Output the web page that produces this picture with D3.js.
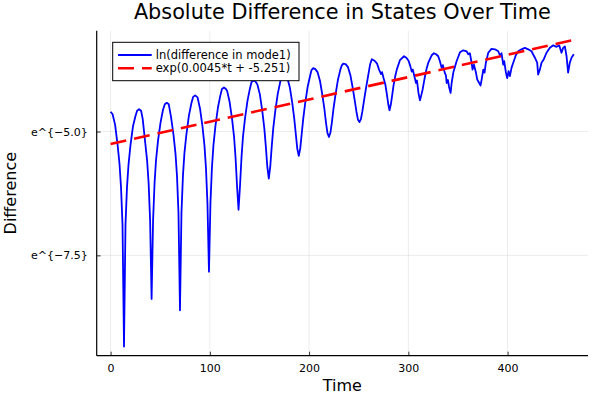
<!DOCTYPE html>
<html>
<head>
<meta charset="utf-8">
<script src="https://cdn.jsdelivr.net/npm/d3@7"></script>
<style>
  body { margin: 0; background: #fff; }
  svg { display: block; font-family: "DejaVu Sans", sans-serif; }
</style>
</head>
<body>
<div id="chart"></div>
<script>
// ln(difference in mode1)
const timeVals = [
  0, 2, 4.5, 7, 9, 10.5, 12, 13.5, 15, 16.5, 18, 20, 22.5, 25, 26.7, 28.7,
  30.7, 32.3, 34.8, 36.8, 38.3, 39.8, 41.3, 42.8, 44.3, 45.8, 47.8, 50.3, 52.8, 54.6, 56.6,
  58.6, 60.9, 63.4, 65.4, 66.9, 68.4, 69.9, 71.4, 72.9, 74.4, 76.4, 78.9, 81.4, 83.2, 85.2,
  87.6, 90.1, 92.6, 94.6, 96.1, 97.6, 99.1, 100.6, 102.1, 103.6, 105.6, 108.1, 110.6, 112.2, 114.2,
  116.2, 117.4, 119.9, 122.4, 124.4, 125.9, 127.4, 128.9, 130.4, 131.9, 133.4, 135.4, 137.9, 140.4, 142, 144,
  146, 147.9, 150.4, 152.9, 154.9, 156.4, 157.9, 159.4, 160.9, 162.4, 163.9, 165.9, 168.4, 170.9, 172.2, 174,
  176, 178.1, 180.6, 183.1, 185.1, 186.6, 188.1, 189.6, 191.1, 192.6, 194.1, 196.1, 198.6, 201.1, 202.4, 204.2,
  206.3, 208.5, 211, 213.5, 215.5, 217, 218.5, 220, 221.5, 223, 224.5, 226.5, 229, 231.5, 232.8, 234.4,
  236.8, 239.2, 241.7, 244.2, 246.2, 247.7, 249.2, 250.7, 252.2, 253.7, 255.2, 257.2, 259.7, 261.5, 263.2,
  266, 268.5, 270.5, 272.5, 273.5, 275, 276.8, 278.3, 279.8, 281, 282.3, 283.5, 285, 286.8, 288.5, 291.5, 295.6,
  298, 300.2, 302, 303.4, 304.5, 306, 307.7, 308.7, 310.2, 311.7, 313, 314.4, 316.8, 318.5, 320.1, 323.5, 325.8,
  328, 330.1, 331.8, 333.5, 334.8, 336.5, 337.9, 338.6, 339.9, 341, 342.6, 343.6, 345.3, 348.6, 352, 355.3,
  358.7, 360.4, 362, 363.7, 364.7, 366.1, 368.1, 369.4, 371.4, 372.8, 374.1, 375.5, 376.8, 378.1, 380.5, 383.8,
  387.2, 390.6, 392.2, 393.9, 395.6, 396.6, 398.3, 399.6, 401, 402.3, 404, 405.7, 408.3, 410.7, 414, 417.4,
  420.8, 424.1, 427.5, 429.8, 430.8, 432.5, 434.2, 436.5, 439.2, 442.6, 446, 449.3, 452, 454.3, 456, 457.7,
  459.4, 461, 462.7, 464.4, 466.7
];
const diffVals = [
  -4.60, -4.65, -4.86, -5.26, -5.66, -6.13, -6.88, -9.34, -6.88, -6.13, -5.68, -5.28, -4.90, -4.69, -4.58, -4.55,
  -4.58, -4.74, -5.21, -5.59, -6.04, -6.79, -8.38, -6.79, -6.04, -5.57, -5.18, -4.82, -4.56, -4.45, -4.42,
  -4.45, -4.71, -5.07, -5.45, -5.90, -6.65, -8.61, -6.64, -5.89, -5.43, -5.05, -4.68, -4.43, -4.30, -4.27,
  -4.31, -4.54, -4.90, -5.29, -5.74, -6.46, -7.83, -6.45, -5.73, -5.28, -4.89, -4.52, -4.27, -4.14, -4.11,
  -4.14, -4.18, -4.40, -4.75, -5.11, -5.53, -6.10, -6.58, -6.09, -5.52, -5.10, -4.74, -4.38, -4.13, -4.00, -3.97,
  -3.99, -4.05, -4.25, -4.60, -4.94, -5.30, -5.71, -5.95, -5.70, -5.29, -4.93, -4.59, -4.24, -4.00, -3.88, -3.85,
  -3.87, -3.92, -4.11, -4.43, -4.75, -5.05, -5.35, -5.49, -5.34, -5.04, -4.74, -4.42, -4.09, -3.87, -3.76, -3.72,
  -3.74, -3.80, -3.98, -4.28, -4.56, -4.82, -5.03, -5.11, -5.02, -4.81, -4.55, -4.27, -3.96, -3.75, -3.67, -3.63,
  -3.64, -3.70, -3.87, -4.15, -4.40, -4.60, -4.76, -4.81, -4.75, -4.59, -4.39, -4.14, -3.85, -3.64, -3.54,
  -3.57, -3.63, -3.75, -3.84, -3.80, -3.92, -4.05, -4.24, -4.45, -4.57, -4.46, -4.30, -4.08, -3.88, -3.74, -3.56, -3.48,
  -3.51, -3.57, -3.68, -3.79, -3.75, -3.88, -4.02, -3.97, -4.22, -4.37, -4.27, -4.15, -3.88, -3.72, -3.61, -3.46, -3.42,
  -3.44, -3.48, -3.58, -3.71, -3.66, -3.80, -3.87, -4.02, -3.96, -4.10, -4.22, -4.02, -3.81, -3.58, -3.40, -3.36,
  -3.38, -3.44, -3.42, -3.61, -3.75, -3.65, -3.81, -3.95, -4.02, -4.07, -3.92, -3.75, -3.81, -3.61, -3.41, -3.33,
  -3.34, -3.38, -3.46, -3.42, -3.65, -3.58, -3.81, -3.92, -3.78, -3.88, -3.71, -3.61, -3.46, -3.38, -3.34, -3.31,
  -3.34, -3.38, -3.51, -3.61, -3.85, -3.75, -3.61, -3.54, -3.41, -3.31, -3.26, -3.29, -3.26, -3.41, -3.31, -3.28,
  -3.48, -3.81, -3.61, -3.51, -3.44
];
// fitted line exp(0.0045*t + -5.251), end points
const fitT = [0, 467];
const fitV = [-5.251, -3.150];

const xTicks = [0, 100, 200, 300, 400];
const yTicks = [-7.5, -5.0];
const yTickLabels = ["e^{\u22127.5}", "e^{\u22125.0}"];
const legendLabels = ["ln(difference in mode1)", "exp(0.0045*t + -5.251)"];

const width = 600;
const height = 400;
const margin = { top: 30.7, right: 12, bottom: 44.3, left: 96.7 };
const innerWidth = width - margin.left - margin.right;
const innerHeight = height - margin.top - margin.bottom;

const blue = timeVals.map((t, i) => ({ t: t, v: diffVals[i] }));
const red = fitT.map((t, i) => ({ t: t, v: fitV[i] }));

const svg = d3.select("#chart")
  .append("svg")
  .attr("width", width)
  .attr("height", height);

// Plots.jl style 3% padding on each side
const allT = timeVals.concat(fitT);
const allV = diffVals.concat(fitV);
const [t0, t1] = d3.extent(allT);
const [v0, v1] = d3.extent(allV);
const padT = (t1 - t0) * 0.03;
const padV = (v1 - v0) * 0.03;

const xScale = d3.scaleLinear()
  .domain([t0 - padT, t1 + padT])
  .range([0, innerWidth]);

const yScale = d3.scaleLinear()
  .domain([v0 - padV, v1 + padV])
  .range([innerHeight, 0]);

const g = svg.append("g")
  .attr("transform", `translate(${margin.left},${margin.top})`);

// Grid
g.append("g")
  .selectAll("line")
  .data(xTicks)
  .join("line")
  .attr("x1", d => xScale(d)).attr("x2", d => xScale(d))
  .attr("y1", 0).attr("y2", innerHeight)
  .attr("stroke", "#000").attr("stroke-opacity", 0.1).attr("stroke-width", 0.8);

g.append("g")
  .selectAll("line")
  .data(yTicks)
  .join("line")
  .attr("y1", d => yScale(d)).attr("y2", d => yScale(d))
  .attr("x1", 0).attr("x2", innerWidth)
  .attr("stroke", "#000").attr("stroke-opacity", 0.1).attr("stroke-width", 0.8);

// Lines
g.append("clipPath").attr("id", "clip")
  .append("rect").attr("width", innerWidth).attr("height", innerHeight);

const line = d3.line()
  .x(d => xScale(d.t))
  .y(d => yScale(d.v));

g.append("path")
  .datum(blue)
  .attr("clip-path", "url(#clip)")
  .attr("fill", "none")
  .attr("stroke", "#0000ff")
  .attr("stroke-width", 1.8)
  .attr("stroke-linejoin", "round")
  .attr("d", line);

g.append("path")
  .datum(red)
  .attr("clip-path", "url(#clip)")
  .attr("fill", "none")
  .attr("stroke", "#ff0000")
  .attr("stroke-width", 2.6)
  .attr("stroke-dasharray", "16,8")
  .attr("d", line);

// Axes
const xAxis = g.append("g")
  .attr("transform", `translate(0,${innerHeight})`)
  .call(d3.axisBottom(xScale).tickValues(xTicks).tickSize(-4).tickPadding(9));

const yAxis = g.append("g")
  .call(d3.axisLeft(yScale).tickValues(yTicks).tickSize(-4).tickPadding(9)
    .tickFormat((d, i) => yTickLabels[i]));

[xAxis, yAxis].forEach(ax => {
  ax.select(".domain").attr("stroke", "#000").attr("stroke-width", 1.2);
  ax.selectAll(".tick line").attr("stroke", "#000").attr("stroke-width", 0.8);
  ax.selectAll(".tick text")
    .attr("fill", "#000")
    .style("font-size", "11px")
    .style("font-family", "DejaVu Sans");
});
// Only the left and bottom spines, no end caps
xAxis.select(".domain").attr("d", `M0,0H${innerWidth}`);
yAxis.select(".domain").attr("d", `M0,0V${innerHeight}`);

// Title and axis labels
svg.append("text")
  .attr("x", margin.left + innerWidth / 2)
  .attr("y", 19)
  .attr("text-anchor", "middle")
  .style("font-size", "20.8px")
  .text("Absolute Difference in States Over Time");

svg.append("text")
  .attr("x", margin.left + innerWidth / 2)
  .attr("y", 391)
  .attr("text-anchor", "middle")
  .style("font-size", "16px")
  .text("Time");

svg.append("text")
  .attr("transform", `translate(16,${margin.top + innerHeight / 2}) rotate(-90)`)
  .attr("text-anchor", "middle")
  .style("font-size", "16px")
  .text("Difference");

// Legend
const legend = svg.append("g").attr("transform", "translate(112.7,42.3)");
legend.append("rect")
  .attr("width", 186.3).attr("height", 38.4)
  .attr("fill", "#fff").attr("stroke", "#000").attr("stroke-width", 1);

const legendStyles = [
  { color: "#0000ff", dash: null, w: 1.8 },
  { color: "#ff0000", dash: "16,8", w: 2.6 }
];
legendLabels.forEach((label, i) => {
  const y = 12.7 + i * 13.3;
  legend.append("line")
    .attr("x1", 5.3).attr("x2", 39)
    .attr("y1", y).attr("y2", y)
    .attr("stroke", legendStyles[i].color)
    .attr("stroke-width", legendStyles[i].w)
    .attr("stroke-dasharray", legendStyles[i].dash);
  legend.append("text")
    .attr("x", 43)
    .attr("y", y + 4)
    .style("font-size", "11.5px")
    .text(label);
});
</script>
</body>
</html>
